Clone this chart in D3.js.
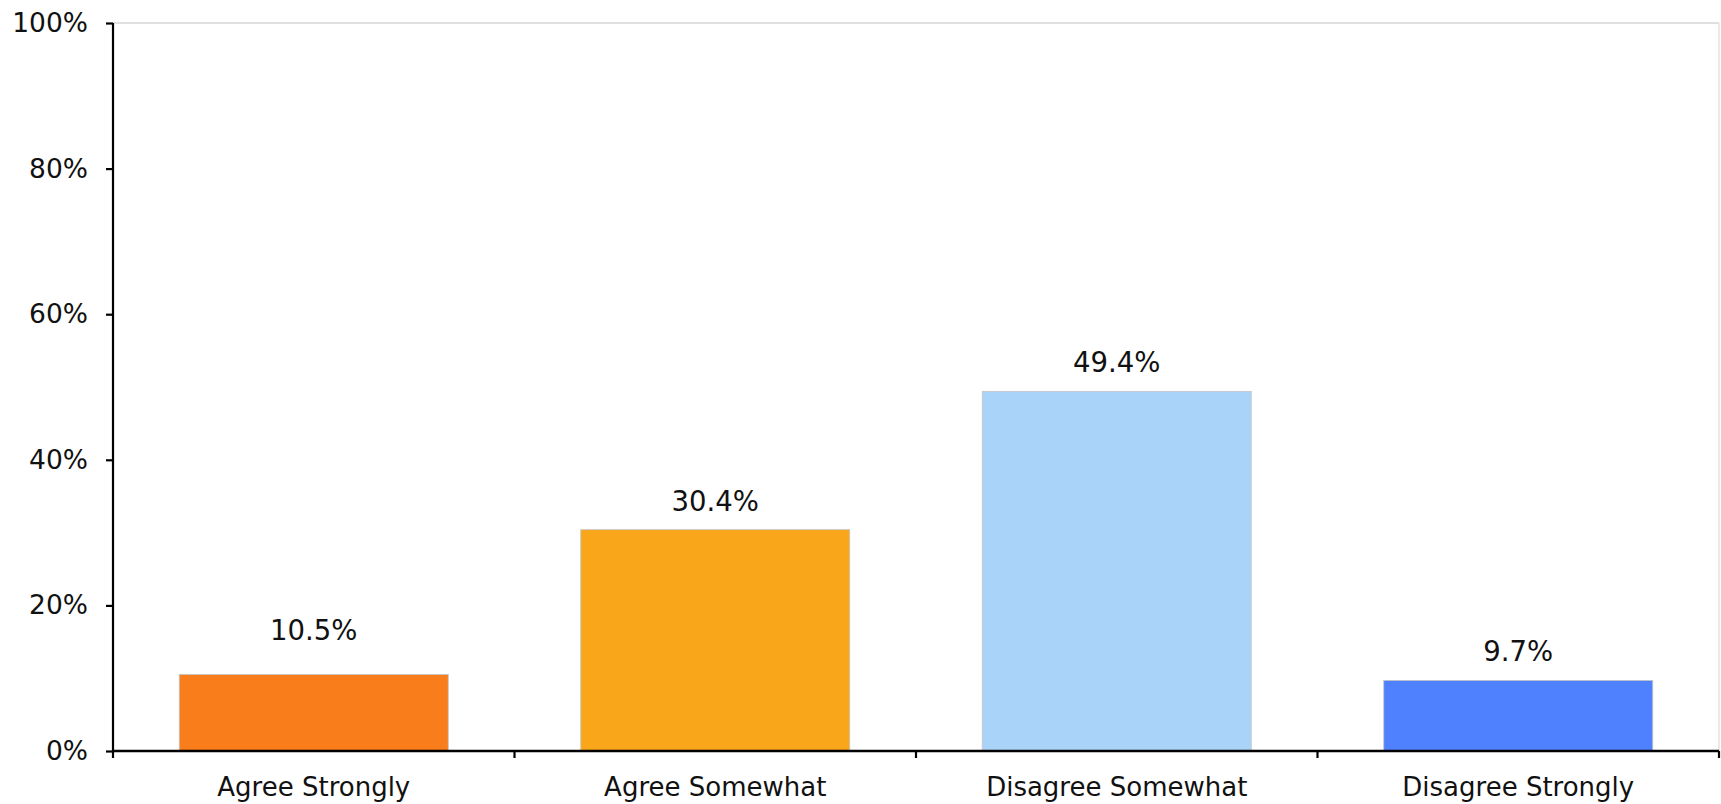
<!DOCTYPE html>
<html>
<head>
<meta charset="utf-8">
<script src="https://cdn.jsdelivr.net/npm/d3@7"></script>
<style>
  html, body { margin: 0; padding: 0; background: #fff; }
  svg { display: block; }
  text { font-family: "DejaVu Sans", sans-serif; fill: #111; }
</style>
</head>
<body>
<svg id="chart" width="1721" height="804"></svg>
<script>
const categories = ["Agree Strongly", "Agree Somewhat", "Disagree Somewhat", "Disagree Strongly"];
const values = [10.5, 30.4, 49.4, 9.7];
const valueLabels = ["10.5%", "30.4%", "49.4%", "9.7%"];
const colors = ["#F97D1A", "#FAA61A", "#AAD3FA", "#4F80FD"];
const yTicks = [0, 20, 40, 60, 80, 100];
const labelGap = [35, 19, 19, 19];

const W = 1721, H = 804;
const margin = { top: 23, right: 2, bottom: 53, left: 113 };
const svg = d3.select("#chart");
const innerW = W - margin.left - margin.right;
const innerH = H - margin.top - margin.bottom;

const x = d3.scaleBand().domain(categories).range([0, innerW])
  .paddingInner(0.33).paddingOuter(0.165);
const y = d3.scaleLinear().domain([0, 100]).range([innerH, 0]);

const g = svg.append("g").attr("transform", `translate(${margin.left},${margin.top})`);

// frame (top and right)
g.append("line").attr("x1", 0).attr("x2", innerW).attr("y1", y(100)).attr("y2", y(100))
  .attr("stroke", "#d6d6d6").attr("stroke-width", 1.5);
g.append("line").attr("x1", innerW).attr("x2", innerW).attr("y1", y(100)).attr("y2", y(0))
  .attr("stroke", "#e2e2e2").attr("stroke-width", 1.5);

// bars
g.selectAll("rect.bar").data(categories).join("rect")
  .attr("class", "bar")
  .attr("x", d => x(d))
  .attr("y", (d, i) => y(values[i]))
  .attr("width", x.bandwidth())
  .attr("height", (d, i) => y(0) - y(values[i]))
  .attr("fill", (d, i) => colors[i])
  .attr("stroke", "#c4c4c4")
  .attr("stroke-width", 0.8);

// value labels
g.selectAll("text.val").data(categories).join("text")
  .attr("class", "val")
  .attr("x", d => x(d) + x.bandwidth() / 2)
  .attr("y", (d, i) => y(values[i]) - labelGap[i])
  .attr("text-anchor", "middle")
  .style("font-size", "27.5px")
  .text((d, i) => valueLabels[i]);

// y axis
const yAxis = g.append("g").call(
  d3.axisLeft(y).tickValues(yTicks).tickFormat(d => d + "%").tickSize(7).tickPadding(18)
);
yAxis.select(".domain").attr("stroke", "#000").attr("stroke-width", 2.2)
  .attr("d", `M0,${y(100)}V${y(0)}`);
yAxis.selectAll(".tick line").attr("stroke", "#000").attr("stroke-width", 2.2);
yAxis.selectAll(".tick text").style("font-size", "26.5px").style("font-family", "DejaVu Sans, sans-serif").attr("fill", "#111");

// x axis
const xAxis = g.append("g").attr("transform", `translate(0,${innerH})`).call(
  d3.axisBottom(x).tickSize(0).tickPadding(27)
);
xAxis.select(".domain").attr("stroke", "#000").attr("stroke-width", 2.4)
  .attr("d", `M0,0H${innerW}`);
xAxis.selectAll(".tick text").style("font-size", "26px").style("font-family", "DejaVu Sans, sans-serif").attr("fill", "#111");

// boundary ticks between categories
const bounds = d3.range(categories.length + 1).map(i => i * x.step());
xAxis.selectAll("line.bound").data(bounds).join("line")
  .attr("class", "bound")
  .attr("x1", d => d).attr("x2", d => d)
  .attr("y1", 0).attr("y2", 7)
  .attr("stroke", "#000").attr("stroke-width", 2.2);
</script>
</body>
</html>
